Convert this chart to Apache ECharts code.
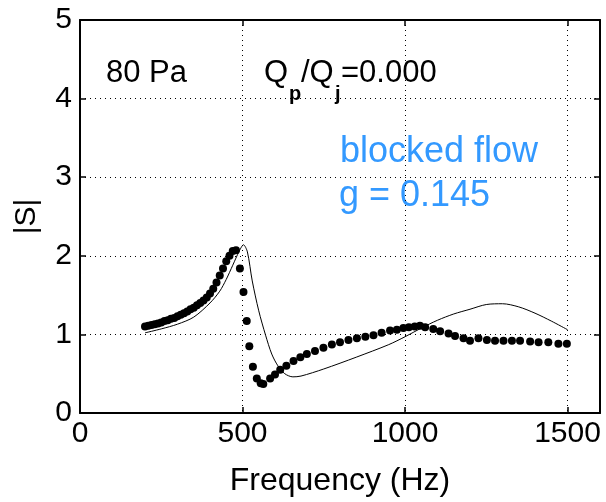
<!DOCTYPE html>
<html>
<head>
	<meta charset="utf-8" />
	<title></title>
	<script type="text/javascript" src="https://cdn.jsdelivr.net/npm/echarts@6/dist/echarts.min.js"></script>
</head>
<body style="margin:0;background:#fff;">
	<div id="main" style="width:606px;height:502px;"></div>
</body>
<script>
	// measured points (dots)
	var dotFreq = [200, 210, 220, 230, 240, 250, 260, 270, 280, 290, 300, 310, 320, 330, 340, 350, 360, 370, 380, 390,
		400, 410, 420, 430, 440, 450, 460, 470, 480, 492, 503, 513, 521, 532, 544, 556, 564, 585, 600, 616,
		635, 657, 678, 698, 723, 749, 775, 800, 826, 852, 878, 903, 928, 954, 975, 995, 1012, 1030, 1046, 1062,
		1087, 1108, 1134, 1154, 1180, 1200, 1226, 1252, 1277, 1303, 1329, 1354, 1385, 1411, 1441, 1472, 1498];
	var dotVal = [1.10, 1.11, 1.12, 1.13, 1.14, 1.15, 1.17, 1.18, 1.20, 1.21, 1.23, 1.25, 1.27, 1.29, 1.32, 1.34, 1.37, 1.40, 1.43, 1.47,
		1.52, 1.58, 1.66, 1.75, 1.84, 1.93, 2.00, 2.06, 2.07, 1.84, 1.54, 1.17, 0.85, 0.59, 0.44, 0.38, 0.37, 0.44, 0.49, 0.55,
		0.60, 0.66, 0.71, 0.75, 0.79, 0.83, 0.87, 0.90, 0.93, 0.95, 0.97, 0.99, 1.02, 1.05, 1.06, 1.08, 1.09, 1.10, 1.11, 1.09,
		1.07, 1.04, 1.01, 0.98, 0.95, 0.92, 0.95, 0.93, 0.92, 0.92, 0.92, 0.92, 0.91, 0.90, 0.90, 0.88, 0.88];

	// model curve (thin line)
	var lineFreq = [200, 250, 300, 350, 400, 430, 450, 470, 490, 503, 515, 530, 550, 571, 590, 609, 630, 655, 680,
		750, 850, 950, 1000, 1050, 1100, 1150, 1200, 1250, 1300, 1350, 1400, 1450, 1500];
	var lineVal = [1.02, 1.07, 1.13, 1.22, 1.40, 1.55, 1.70, 1.88, 2.06, 2.14, 2.05, 1.68, 1.30, 0.99, 0.75, 0.60, 0.50, 0.46, 0.47,
		0.56, 0.71, 0.87, 0.97, 1.08, 1.18, 1.26, 1.32, 1.38, 1.39, 1.35, 1.27, 1.17, 1.06];

	var xTicks = [0, 500, 1000, 1500];
	var yTicks = [0, 1, 2, 3, 4, 5];

	var FONT = '"Liberation Sans", Arial, sans-serif';

	var dots = dotFreq.map(function (f, i) { return [f, dotVal[i]]; });
	var model = lineFreq.map(function (f, i) { return [f, lineVal[i]]; });

	var myChart = echarts.init(document.getElementById('main'));

	var tick = { show: true, inside: true, length: 6, lineStyle: { color: '#000', width: 1.5 } };
	var frame = { show: true, onZero: false, lineStyle: { color: '#000', width: 2 } };

	var option = {
		backgroundColor: '#fff',
		animation: false,
		grid: { left: 80, right: 6, top: 20, bottom: 87 },
		xAxis: [{
			type: 'value', min: 0, max: 1600, interval: 500,
			axisLine: frame, axisTick: tick,
			axisLabel: {
				color: '#000', fontSize: 30, fontFamily: FONT, margin: 6, showMaxLabel: false,
				formatter: function (v) { return xTicks.indexOf(v) >= 0 ? String(v) : ''; }
			},
			splitLine: { show: true, lineStyle: { color: '#000', type: [1, 4], width: 1 } },
			name: 'Frequency (Hz)', nameLocation: 'middle', nameGap: 52,
			nameTextStyle: { color: '#000', fontSize: 32, fontFamily: FONT }
		}, {
			type: 'value', min: 0, max: 1600, interval: 500, position: 'top',
			axisLine: frame, axisTick: tick, axisLabel: { show: false }, splitLine: { show: false }
		}],
		yAxis: [{
			type: 'value', min: 0, max: 5, interval: 1,
			axisLine: frame, axisTick: tick,
			axisLabel: {
				color: '#000', fontSize: 30, fontFamily: FONT, margin: 8,
				formatter: function (v) { return yTicks.indexOf(v) >= 0 ? String(v) : ''; }
			},
			splitLine: { show: true, lineStyle: { color: '#000', type: [1, 4], width: 1 } },
			name: '|S|', nameLocation: 'middle', nameGap: 38,
			nameTextStyle: { color: '#000', fontSize: 30, fontFamily: FONT }
		}, {
			type: 'value', min: 0, max: 5, interval: 1, position: 'right',
			axisLine: frame, axisTick: tick, axisLabel: { show: false }, splitLine: { show: false }
		}],
		graphic: [
			{ type: 'text', left: 106, top: 58, style: { text: '80 Pa', font: '31px ' + FONT, fill: '#000' } },
			{ type: 'text', left: 264, top: 58, style: { text: 'Q', font: '31px ' + FONT, fill: '#000' } },
			{ type: 'text', left: 289, top: 84, style: { text: 'p', font: 'bold 20px ' + FONT, fill: '#000' } },
			{ type: 'text', left: 301, top: 58, style: { text: '/Q', font: '31px ' + FONT, fill: '#000' } },
			{ type: 'text', left: 335, top: 84, style: { text: 'j', font: 'bold 20px ' + FONT, fill: '#000' } },
			{ type: 'text', left: 341, top: 58, style: { text: '=0.000', font: '31px ' + FONT, fill: '#000' } },
			{ type: 'text', left: 340, top: 134, style: { text: 'blocked flow', font: '36px ' + FONT, fill: '#3399ff' } },
			{ type: 'text', left: 339, top: 178, style: { text: 'g = 0.145', font: '36px ' + FONT, fill: '#3399ff' } }
		],
		series: [{
			name: 'model',
			type: 'line',
			xAxisIndex: 0, yAxisIndex: 0,
			data: model,
			smooth: 0.3,
			showSymbol: false,
			lineStyle: { color: '#000', width: 1 },
			z: 3
		}, {
			name: 'measured',
			type: 'scatter',
			xAxisIndex: 0, yAxisIndex: 0,
			data: dots,
			symbol: 'circle',
			symbolSize: 8,
			itemStyle: { color: '#000', opacity: 1 },
			z: 4
		}]
	};
	myChart.setOption(option);
</script>
</html>
